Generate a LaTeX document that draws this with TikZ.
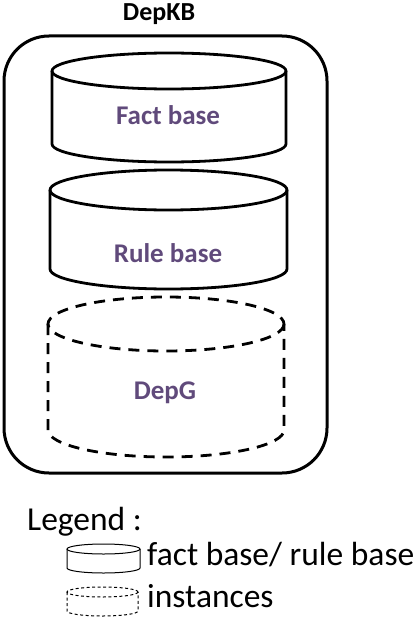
\documentclass[tikz,border=0pt]{standalone}
\usepackage{fontspec}
\setmainfont{Carlito}
\definecolor{lblpurple}{HTML}{604A7B}
\newcommand\drawcyl[6][]{%
  % #2 x1, #3 x2, #4 top centre y, #5 bottom centre y, #6 ry
  \pgfmathsetmacro\cx{(#2+#3)/2}\pgfmathsetmacro\rx{(#3-#2)/2}%
  \draw[#1] (\cx,#4) ellipse[x radius=\rx, y radius=#6];
  \draw[#1] (#2,#4) -- (#2,#5) arc[start angle=180,end angle=0,x radius=\rx,y radius=#6] -- (#3,#4);
}
\begin{document}
\begin{tikzpicture}[x=1pt,y=-1pt,
  lbl/.style={font=\fontsize{27}{30}\selectfont\bfseries, text=lblpurple},
  legtxt/.style={font=\fontsize{33.5}{38}\selectfont, anchor=base west, inner sep=0pt}]
\useasboundingbox (0,0) rectangle (420,618);
\node[font=\fontsize{26}{30}\selectfont\bfseries] (title) at (159,14) {DepKB};
\draw[line width=3pt, rounded corners=45pt] (4,36) rectangle (327,473);
\drawcyl[line width=2.8pt]{52}{286}{71}{144}{18}
\node[lbl] (fact) at (168,115) {Fact base};
\drawcyl[line width=2.8pt]{50}{287}{190}{269}{20}
\node[lbl] (rule) at (168,253) {Rule base};
\drawcyl[line width=2.8pt, dash pattern=on 11pt off 8pt]{48}{284}{324}{430}{27}
\node[lbl] (depg) at (165,393) {DepG};
\node[legtxt] (legend) at (27,530) {Legend :};
\drawcyl[line width=1pt]{67}{140}{549}{568}{5}
\node[legtxt] (fb) at (147,565) {fact base/ rule base};
\drawcyl[line width=1pt, dash pattern=on 3pt off 2.5pt]{67}{138}{592}{611}{5}
\node[legtxt] (inst) at (147,607) {instances};
\end{tikzpicture}
\end{document}
